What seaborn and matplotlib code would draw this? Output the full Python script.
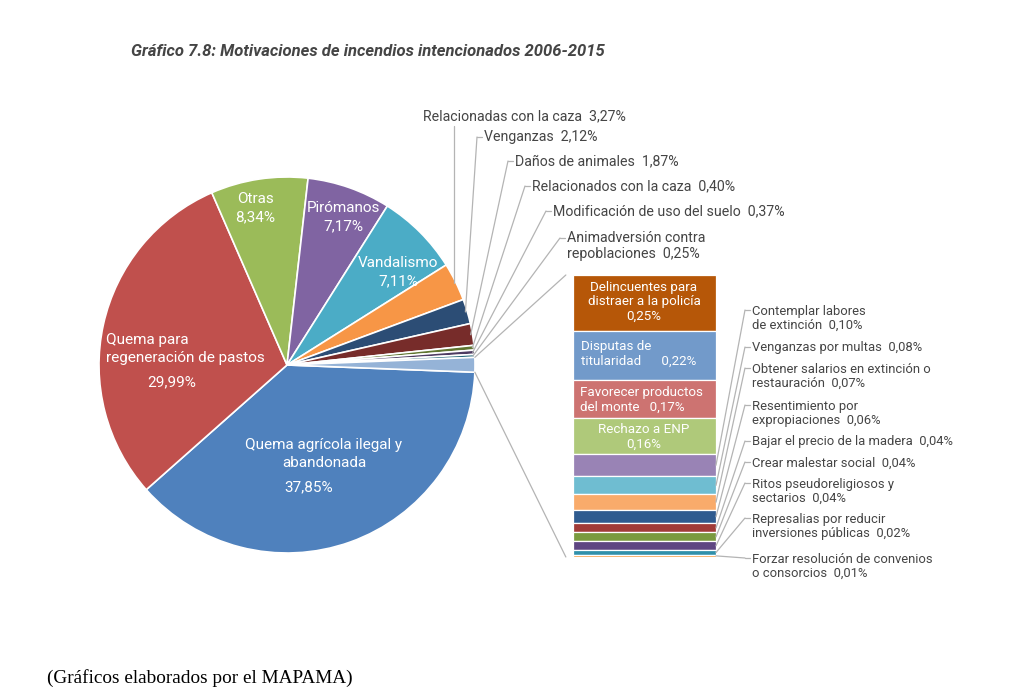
import numpy as np
import matplotlib.pyplot as plt
from matplotlib.lines import Line2D
import seaborn as sns

# ---- data ----
pie_names = ["Quema agrícola ilegal y\nabandonada", "Quema para\nregeneración de pastos", "Otras",
             "Pirómanos", "Vandalismo", "Relacionadas con la caza", "Venganzas", "Daños de animales",
             "Relacionados con la caza", "Modificación de uso del suelo", "Animadversión contra\nrepoblaciones"]
pie_values = [37.85, 29.99, 8.34, 7.17, 7.11, 3.27, 2.12, 1.87, 0.40, 0.37, 0.25]
pie_colors = ["#4f81bd", "#c0504d", "#9bbb59", "#8064a2", "#4bacc6", "#f79646",
              "#2c4d75", "#772c2a", "#5f7530", "#4d3b62", "#276a7c"]
rest_color = "#95b3d7"

bar_names = ["Delincuentes para\ndistraer a la policía", "Disputas de\ntitularidad", "Favorecer productos\ndel monte",
             "Rechazo a ENP", "Contemplar labores\nde extinción", "Venganzas por multas",
             "Obtener salarios en extinción o\nrestauración", "Resentimiento por\nexpropiaciones",
             "Bajar el precio de la madera", "Crear malestar social", "Ritos pseudoreligiosos y\nsectarios",
             "Represalias por reducir\ninversiones públicas", "Forzar resolución de convenios\no consorcios"]
bar_values = [0.25, 0.22, 0.17, 0.16, 0.10, 0.08, 0.07, 0.06, 0.04, 0.04, 0.04, 0.02, 0.01]
bar_colors = ["#b65708", "#729aca", "#cd7371", "#afc97a", "#9983b5", "#6fbdd1", "#f9ab6b",
              "#2f5b8f", "#a13b38", "#7a9a3e", "#5e4682", "#3090aa", "#f5a04a"]

title = "Gráfico 7.8: Motivaciones de incendios intencionados 2006-2015"
source = "(Gráficos elaborados por el MAPAMA)"

W, H = 1024, 698
TXT = "#454545"
LINE = "#b4b4b4"


def fmt(v):
    return f"{v:.2f}".replace(".", ",") + "%"


def fx(x, y):
    # pixel (from top-left) -> figure fraction
    return x / W, 1 - y / H


def data_px(ax, x, y):
    dx, dy = ax.transData.transform((x, y))
    return dx, H - dy


def seg(p, q, **kw):
    fig.add_artist(Line2D([p[0] / W, q[0] / W], [1 - p[1] / H, 1 - q[1] / H],
                          transform=fig.transFigure, color=LINE, lw=0.9, **kw))


def put(x, y, s, **kw):
    fig.text(*fx(x, y), s, **kw)


sns.set_theme(style="white")
plt.rcParams["font.family"] = ["Roboto", "DejaVu Sans"]

fig = plt.figure(figsize=(W / 100, H / 100), dpi=100)
fig.patch.set_facecolor("white")

# ---- pie ----
cx, cy, r = 287, 365, 188
ax_pie = fig.add_axes([(cx - r) / W, 1 - (cy + r) / H, 2 * r / W, 2 * r / H])
rest = sum(bar_values)
wedges, _ = ax_pie.pie(pie_values + [rest], colors=pie_colors + [rest_color], startangle=-2.2,
                       counterclock=False, radius=1,
                       wedgeprops=dict(edgecolor="white", linewidth=1.2))
ax_pie.set_xlim(-1, 1)
ax_pie.set_ylim(-1, 1)
ax_pie.set_aspect("equal")
ax_pie.axis("off")

# ---- stacked bar ----
bx0, bx1, by0, by1 = 573, 716, 275, 557
ax_bar = fig.add_axes([bx0 / W, 1 - by1 / H, (bx1 - bx0) / W, (by1 - by0) / H])
bottom = rest
mids = []
for v, c in zip(bar_values, bar_colors):
    bottom -= v
    ax_bar.bar(0, v, bottom=bottom, width=1, color=c, edgecolor="white", linewidth=0.9)
    mids.append(bottom + v / 2)
ax_bar.set_xlim(-0.5, 0.5)
ax_bar.set_ylim(0, rest)
ax_bar.axis("off")

# connection lines between pie "rest" wedge and bar
w = wedges[-1]
a_top, a_bot = np.deg2rad(max(w.theta1, w.theta2)), np.deg2rad(min(w.theta1, w.theta2))
seg(data_px(ax_pie, np.cos(a_top), np.sin(a_top)), data_px(ax_bar, -0.55, rest))
seg(data_px(ax_pie, np.cos(a_bot), np.sin(a_bot)), data_px(ax_bar, -0.55, 0))

# ---- labels inside the pie ----
pie_kw = dict(color="white", fontsize=11, va="center")
put(324, 454, pie_names[0], ha="center", linespacing=1.45, **pie_kw)
put(309, 487, fmt(pie_values[0]), ha="center", **pie_kw)
put(106, 349, pie_names[1], ha="left", linespacing=1.3, **pie_kw)
put(172, 382, fmt(pie_values[1]), ha="center", **pie_kw)
put(255, 208, f"{pie_names[2]}\n{fmt(pie_values[2])}", ha="center", linespacing=1.4, **pie_kw)
put(343, 217, f"{pie_names[3]}\n{fmt(pie_values[3])}", ha="center", linespacing=1.4, **pie_kw)
put(398, 272, f"{pie_names[4]}\n{fmt(pie_values[4])}", ha="center", linespacing=1.35, **pie_kw)

# ---- outside labels for small pie slices ----
out_kw = dict(color=TXT, fontsize=10.2, va="center", ha="left", linespacing=1.1)
out_pos = [(423, 116), (484, 137), (515, 161), (532, 186), (553, 211), (567, 238)]
for k, (tx, ty) in enumerate(out_pos):
    i = 5 + k
    wd = wedges[i]
    a = np.deg2rad((wd.theta1 + wd.theta2) / 2)
    anchor = data_px(ax_pie, 0.99 * np.cos(a), 0.99 * np.sin(a))
    name = pie_names[i]
    label = f"{name}  {fmt(pie_values[i])}"
    if "\n" in name:
        put(tx, ty + 8, label, **out_kw)
    else:
        put(tx, ty, label, **out_kw)
    if k == 0:
        seg(anchor, (anchor[0], ty + 10))
    else:
        seg(anchor, (tx - 7, ty))
        seg((tx - 7, ty), (tx - 2, ty))

# ---- labels inside the bar ----
bar_kw = dict(color="white", fontsize=9.6, va="center", linespacing=1.15)
put(644, 302, f"{bar_names[0]}\n{fmt(bar_values[0])}", ha="center", **bar_kw)
put(581, 354, bar_names[1].replace("titularidad", "titularidad      " + fmt(bar_values[1])), ha="left", **bar_kw)
put(580, 400, bar_names[2].replace("del monte", "del monte   " + fmt(bar_values[2])), ha="left", **bar_kw)
put(644, 437, f"{bar_names[3]}\n{fmt(bar_values[3])}", ha="center", **bar_kw)

# ---- labels right of the bar ----
right_y = [311, 348, 369, 406, 442, 463, 484, 519, 559]
rk = dict(color=TXT, fontsize=9.4, va="center", ha="left", linespacing=1.1)
for k, ty in enumerate(right_y):
    i = 4 + k
    name = bar_names[i]
    anchor = data_px(ax_bar, 0.5, mids[i])
    if "\n" in name:
        put(752, ty + 7.5, f"{name}  {fmt(bar_values[i])}", **rk)
    else:
        put(752, ty, f"{name}  {fmt(bar_values[i])}", **rk)
    seg(anchor, (745, ty - 1))
    seg((745, ty - 1), (750, ty - 1))

# ---- title and source ----
put(131, 52, title, ha="left", va="center", fontsize=12, fontweight="bold", style="italic", color=TXT)
fig.text(*fx(47, 678), source, ha="left", va="center", fontsize=13.9, color="black",
         family=["Liberation Serif", "DejaVu Serif"])

fig.savefig("out.png", dpi=100, facecolor="white")
